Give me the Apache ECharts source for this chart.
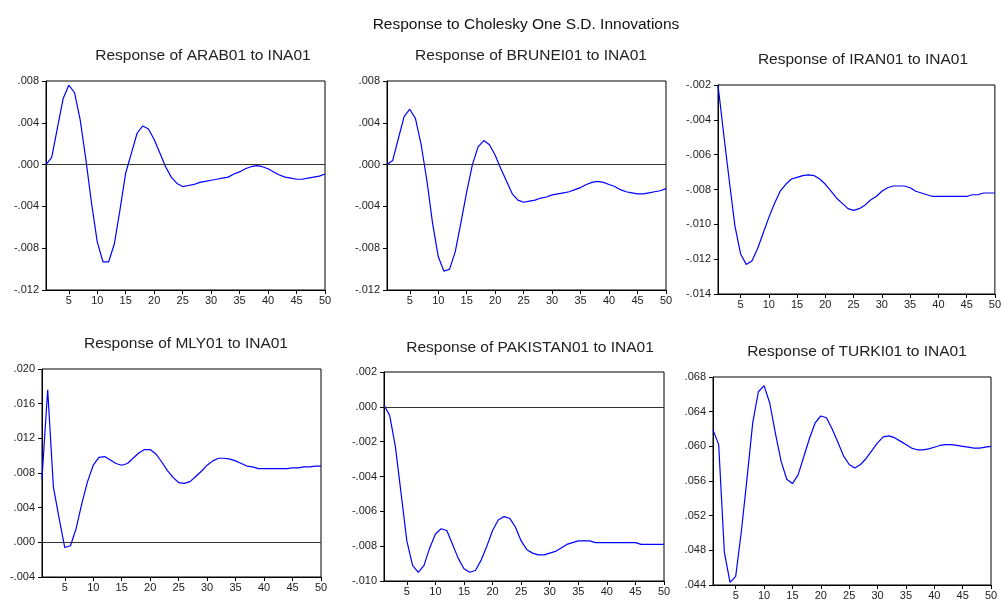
<!DOCTYPE html>
<html><head><meta charset="utf-8">
<script src="https://cdn.jsdelivr.net/npm/echarts@6/dist/echarts.min.js"></script>
<style>html,body{margin:0;padding:0;background:#fff}#c{width:1004px;height:604px}</style>
</head><body><div id="c"></div>
<script>
const periods = Array.from({length:50},(_,i)=>i+1);
const xTickValues = [5,10,15,20,25,30,35,40,45,50];

const mainTitle = 'Response to Cholesky One S.D. Innovations';
const panelTitles = ['Response of ARAB01 to INA01','Response of BRUNEI01 to INA01','Response of IRAN01 to INA01',
  'Response of MLY01 to INA01','Response of PAKISTAN01 to INA01','Response of TURKI01 to INA01'];

const arab = [0.0000,0.0007,0.0035,0.0063,0.0076,0.0069,0.0043,0.0005,-0.0037,-0.0074,
  -0.0093,-0.0093,-0.0076,-0.0043,-0.0008,0.0011,0.0030,0.0037,0.0034,0.0024,
  0.0011,-0.0002,-0.0012,-0.0018,-0.0021,-0.0020,-0.0019,-0.0017,-0.0016,-0.0015,
  -0.0014,-0.0013,-0.0012,-0.0009,-0.0007,-0.0004,-0.0002,-0.0001,-0.0002,-0.0004,
  -0.0007,-0.0010,-0.0012,-0.0013,-0.0014,-0.0014,-0.0013,-0.0012,-0.0011,-0.0009];
const brunei = [0.0000,0.0004,0.0025,0.0046,0.0053,0.0044,0.0019,-0.0015,-0.0056,-0.0088,
  -0.0102,-0.0100,-0.0083,-0.0055,-0.0026,0.0000,0.0017,0.0023,0.0019,0.0009,
  -0.0004,-0.0016,-0.0028,-0.0034,-0.0036,-0.0035,-0.0034,-0.0032,-0.0031,-0.0029,
  -0.0028,-0.0027,-0.0026,-0.0024,-0.0022,-0.0019,-0.0017,-0.0016,-0.0017,-0.0019,
  -0.0021,-0.0024,-0.0026,-0.0027,-0.0028,-0.0028,-0.0027,-0.0026,-0.0025,-0.0023];
const iran = [-0.0020,-0.0048,-0.0075,-0.0101,-0.0117,-0.0123,-0.0121,-0.0114,-0.0105,-0.0096,
  -0.0088,-0.0081,-0.0077,-0.0074,-0.0073,-0.0072,-0.00716,-0.0072,-0.0074,-0.0077,
  -0.0081,-0.0085,-0.0088,-0.0091,-0.0092,-0.0091,-0.0089,-0.0086,-0.0084,-0.0081,
  -0.0079,-0.0078,-0.0078,-0.0078,-0.0079,-0.0081,-0.0082,-0.0083,-0.0084,-0.0084,
  -0.0084,-0.0084,-0.0084,-0.0084,-0.0084,-0.0083,-0.0083,-0.0082,-0.0082,-0.0082];
const mly = [0.0074,0.0176,0.0064,0.0028,-0.0006,-0.0004,0.0016,0.0045,0.0070,0.0089,
  0.0098,0.0099,0.0095,0.0091,0.0089,0.0091,0.0097,0.0103,0.0107,0.0107,
  0.0102,0.0093,0.0083,0.0075,0.0069,0.0068,0.0070,0.0076,0.0082,0.0089,
  0.0094,0.0097,0.0097,0.0096,0.0094,0.0091,0.0088,0.0087,0.0085,0.0085,
  0.0085,0.0085,0.0085,0.0085,0.0086,0.0086,0.0087,0.0087,0.0088,0.0088];
const pakistan = [0.0001,-0.0005,-0.0023,-0.0050,-0.0077,-0.0091,-0.0095,-0.0091,-0.0081,-0.0073,
  -0.0070,-0.0071,-0.0079,-0.0087,-0.0093,-0.0095,-0.0094,-0.0088,-0.0080,-0.0071,
  -0.0065,-0.0063,-0.0064,-0.0069,-0.0077,-0.0082,-0.0084,-0.0085,-0.0085,-0.0084,
  -0.0083,-0.0081,-0.0079,-0.0078,-0.0077,-0.0077,-0.0077,-0.0078,-0.0078,-0.0078,
  -0.0078,-0.0078,-0.0078,-0.0078,-0.0078,-0.0079,-0.0079,-0.0079,-0.0079,-0.0079];
const turki = [0.0619,0.0602,0.0478,0.0443,0.0450,0.0502,0.0563,0.0627,0.0663,0.0670,
  0.0650,0.0615,0.0583,0.0562,0.0557,0.0567,0.0588,0.0609,0.0627,0.0635,
  0.0633,0.0620,0.0605,0.0589,0.0579,0.0575,0.0579,0.0586,0.0595,0.0604,
  0.0611,0.0612,0.0610,0.0606,0.0602,0.0598,0.0596,0.0596,0.0597,0.0599,
  0.0601,0.0602,0.0602,0.0601,0.0600,0.0599,0.0598,0.0598,0.0599,0.0600];

const yMins = [-0.012,-0.012,-0.014,-0.004,-0.010,0.044];
const yMaxs = [0.008,0.008,-0.002,0.020,0.002,0.068];
const yIntervals = [0.004,0.004,0.002,0.004,0.002,0.004];
const zeroLine = [true,true,false,true,true,false];

const seriesData = [arab,brunei,iran,mly,pakistan,turki];

// layout (px)
const grids = [
  {left:46,top:81,width:279,height:209},
  {left:387,top:81,width:279,height:209},
  {left:718,top:85,width:278,height:209},
  {left:42,top:369,width:279,height:208},
  {left:384,top:372,width:280,height:209},
  {left:713,top:377,width:278,height:208}
];
const titlePos = [[198,53],[526,53],[858,57],[181,341],[525,345],[852,349]];

function fmt(v){
  let s = (Math.round(v*1000)/1000).toFixed(3);
  if (s === '-0.000') s = '0.000';
  return s.replace(/^(-?)0\./,'$1.');
}

const font = 'Liberation Sans, Arial, sans-serif';
const option = {
  backgroundColor:'#fff',
  animation:false,
  title:[{text:mainTitle,left:521,top:12,textAlign:'center',
    textStyle:{fontFamily:font,fontSize:15.5,fontWeight:'normal',color:'#111'}}]
    .concat(panelTitles.map((t,i)=>({text:t,left:titlePos[i][0],top:titlePos[i][1]-10,textAlign:'center',
      textStyle:{fontFamily:font,fontSize:15.5,fontWeight:'normal',color:'#222'}}))),
  grid:grids.map(g=>Object.assign({show:true,borderColor:'#000',borderWidth:1,backgroundColor:'transparent',containLabel:false},g)),
  xAxis:grids.map((g,i)=>({type:'value',gridIndex:i,min:1,max:50,
    axisLine:{show:true,onZero:false,lineStyle:{color:'#000'}},
    axisTick:{show:true,length:4,customValues:xTickValues,lineStyle:{color:'#000'}},
    axisLabel:{customValues:xTickValues,fontFamily:font,fontSize:11,color:'#222',margin:5},
    splitLine:{show:false}})),
  yAxis:grids.map((g,i)=>({type:'value',gridIndex:i,min:yMins[i],max:yMaxs[i],interval:yIntervals[i],
    axisLine:{show:true,onZero:false,lineStyle:{color:'#000'}},
    axisTick:{show:true,length:4,lineStyle:{color:'#000'}},
    axisLabel:{formatter:fmt,fontFamily:font,fontSize:11,color:'#222',margin:7},
    splitLine:{show:false}})),
  series:seriesData.map((d,i)=>({type:'line',xAxisIndex:i,yAxisIndex:i,
    data:d.map((v,k)=>[periods[k],v]),showSymbol:false,symbol:'none',
    lineStyle:{color:'#0000ff',width:1.2},
    markLine: zeroLine[i] ? {silent:true,symbol:'none',label:{show:false},
      lineStyle:{color:'#333',width:1,type:'solid'},data:[{yAxis:0}]} : undefined,
    z:3}))
};
echarts.init(document.getElementById('c'),null,{renderer:'canvas'}).setOption(option);
</script></body></html>
